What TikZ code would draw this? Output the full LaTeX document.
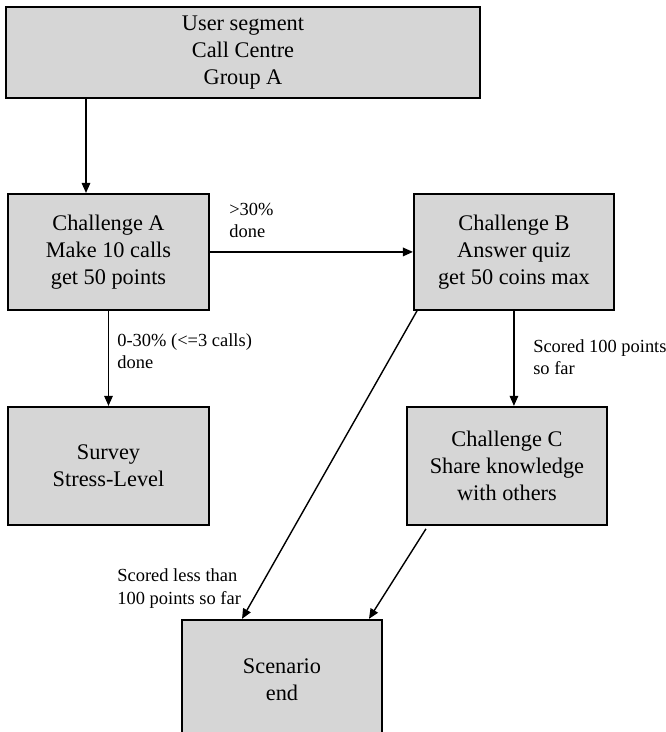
\documentclass[tikz,border=0pt]{standalone}
\usepackage{fontspec}
\setmainfont{Liberation Serif}
\usetikzlibrary{arrows.meta,positioning,calc}
\definecolor{boxgray}{RGB}{214,214,214}

\begin{document}
\begin{tikzpicture}[
    box/.style={draw, line width=1.1pt, fill=boxgray, align=center,
      font=\fontsize{12.7}{15.3}\selectfont, minimum width=4.02cm,
      minimum height=2.32cm, inner sep=2pt},
    lbl/.style={align=left, anchor=north west, inner sep=0pt,
      font=\fontsize{10.5}{12.6}\selectfont},
    arrow/.style={-{Triangle[length=2mm,width=1.7mm]}, line width=.8pt}
  ]
    \useasboundingbox (0,0) rectangle (13.3,-14.64);

    \node[box, minimum width=9.48cm, minimum height=1.82cm] (seg) at (4.86,-1.05)
      {User segment\\Call Centre\\Group A};
    \node[box, below=1.88cm of seg.south west, anchor=north west, xshift=.04cm] (chA)
      {Challenge A\\Make 10 calls\\get 50 points};
    \node[box, right=4.06cm of chA, minimum width=4cm] (chB)
      {Challenge B\\Answer quiz\\get 50 coins max};
    \node[box, below=1.9cm of chA, minimum height=2.36cm] (survey)
      {Survey\\Stress-Level};
    \node[box, below=1.9cm of chB, xshift=-.14cm, minimum width=4cm,
      minimum height=2.36cm] (chC) {Challenge C\\Share knowledge\\with others};
    \node[box, below=1.86cm of survey.south west, anchor=north west, xshift=3.48cm,
      minimum width=4cm, minimum height=2.4cm] (scend) {Scenario\\end};

    % labels on the connectors
    \node[lbl] (lblAB) at ([xshift=.38cm, yshift=.98cm]chA.east) {>30\%\\done};
    \node[lbl] (lblAS) at ([xshift=.17cm, yshift=-.44cm]chA.south) {0-30\% (<=3 calls)\\done};
    \node[lbl] (lblBC) at ([xshift=.38cm, yshift=-.56cm]chB.south) {Scored 100 points\\so far};
    \node[lbl] (lblBE) at ([xshift=-1.28cm, yshift=1.0cm]scend.north west) {Scored less than\\100 points so far};

    \draw[arrow] ([xshift=-.45cm]chA.north |- seg.south) -- ([xshift=-.45cm]chA.north);
    \draw[arrow] (chA) -- (chB);
    \draw[arrow] (chA) -- (survey);
    \draw[arrow] (chB.south) -- (chB.south |- chC.north);
    \draw[arrow] ([xshift=.08cm]chB.south west) -- ([xshift=1.22cm]scend.north west);
    \draw[arrow] ([xshift=.4cm, yshift=-.06cm]chC.south west) -- ([xshift=-.28cm]scend.north east);
  \end{tikzpicture}
\end{document}
